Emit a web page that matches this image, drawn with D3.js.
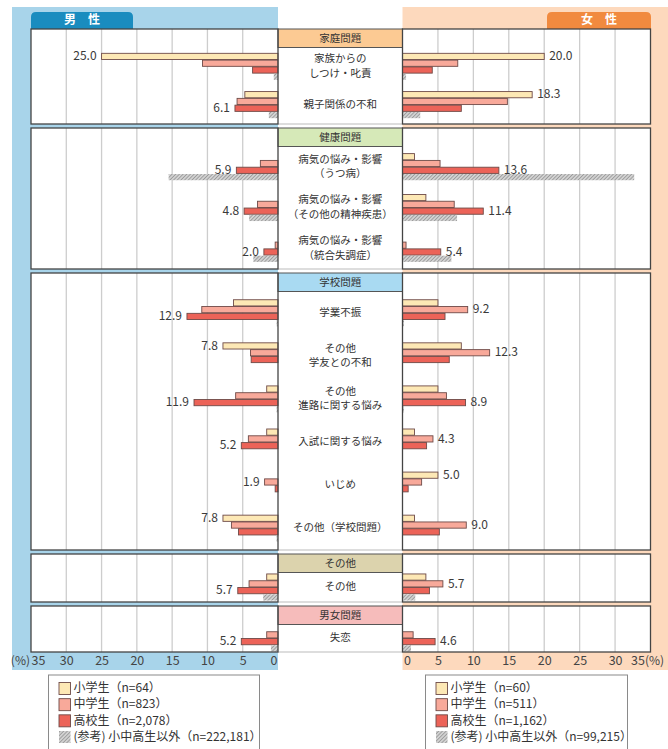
<!DOCTYPE html>
<html><head><meta charset="utf-8">
<script src="https://cdn.jsdelivr.net/npm/d3@7"></script>
<style>
body{margin:0;background:#fff;}
text{font-family:"Noto Sans CJK JP","Noto Sans",sans-serif;}
</style></head><body>
<svg id="chart" width="668" height="749"></svg>
<script>
// ---- data ----
const sections = ["家庭問題", "健康問題", "学校問題", "その他", "男女問題"];
const categories = [
  "家族からの\nしつけ・叱責", "親子関係の不和",
  "病気の悩み・影響\n（うつ病）", "病気の悩み・影響\n（その他の精神疾患）", "病気の悩み・影響\n（統合失調症）",
  "学業不振", "その他\n学友との不和", "その他\n進路に関する悩み", "入試に関する悩み", "いじめ", "その他（学校問題）",
  "その他",
  "失恋"
];
const categorySection = [0, 0, 1, 1, 1, 2, 2, 2, 2, 2, 2, 3, 4];
const seriesNames = ["小学生", "中学生", "高校生", "(参考) 小中高生以外"];
const maleN = ["64", "823", "2,078", "222,181"];
const femaleN = ["60", "511", "1,162", "99,215"];

const maleElementary = [25.0, 4.7, 0, 0, 0, 6.3, 7.8, 1.6, 1.6, 0, 7.8, 1.6, 0];
const maleJunior     = [10.7, 5.8, 2.5, 2.9, 0.4, 10.8, 3.9, 6.0, 4.2, 1.9, 6.6, 4.1, 1.6];
const maleHigh       = [3.6, 6.1, 5.9, 4.8, 2.0, 12.9, 3.8, 11.9, 5.2, 0.4, 5.6, 5.7, 5.2];
const maleOther      = [0.6, 1.3, 15.5, 4.1, 3.5, 0.2, 0, 0.2, 0, 0, 0.2, 2.1, 1.0];

const femaleElementary = [20.0, 18.3, 1.7, 3.3, 0, 5.0, 8.3, 5.0, 1.7, 5.0, 1.7, 3.3, 0];
const femaleJunior     = [7.8, 14.8, 5.3, 7.3, 0.5, 9.2, 12.3, 6.2, 4.3, 2.7, 9.0, 5.7, 1.5];
const femaleHigh       = [4.2, 8.3, 13.6, 11.4, 5.4, 6.0, 6.6, 8.9, 3.4, 0.8, 5.2, 3.8, 4.6];
const femaleOther      = [0.5, 2.5, 32.7, 7.7, 6.9, 0.2, 0, 0.2, 0, 0, 0, 1.8, 1.2];

const tickValues = [0, 5, 10, 15, 20, 25, 30, 35];

// ---- layout & style ----
const sectionTop = [29, 128, 273, 554, 606];
const sectionBottom = [124, 269, 550, 602, 652];
const headerH = 18.5;
const sectionFill = ["#fcca93", "#d6e9b8", "#a9daf2", "#dcd3ad", "#f6bcbb"];
const barFill = ["#fde8b5", "#f8a99a", "#ec6358", "url(#hatch)"];
const barStroke = "#6e4a47";

const svg = d3.select("#chart");
const defs = svg.append("defs");
const pat = defs.append("pattern").attr("id", "hatch")
  .attr("width", 2.6).attr("height", 2.6)
  .attr("patternUnits", "userSpaceOnUse")
  .attr("patternTransform", "rotate(45)");
pat.append("rect").attr("width", 2.6).attr("height", 2.6).attr("fill", "#d2d2d2");
pat.append("line").attr("x1", 0).attr("y1", 0).attr("x2", 0).attr("y2", 2.6)
  .attr("stroke", "#8c8c8c").attr("stroke-width", 1.4);

const xMale = d3.scaleLinear().domain([0, 35]).range([278, 31]);
const xFemale = d3.scaleLinear().domain([0, 35]).range([402.5, 650.5]);

// side backgrounds
svg.append("rect").attr("x", 12).attr("y", 7).attr("width", 266).attr("height", 663).attr("fill", "#a8d4ea");
svg.append("rect").attr("x", 402.5).attr("y", 7).attr("width", 265.5).attr("height", 663).attr("fill", "#fdd9bd");

// side tabs
function tab(x0, x1, y0, y1, fill, label) {
  const r = 5;
  svg.append("path")
    .attr("d", `M${x0},${y1}V${y0 + r}Q${x0},${y0} ${x0 + r},${y0}H${x1 - r}Q${x1},${y0} ${x1},${y0 + r}V${y1}Z`)
    .attr("fill", fill);
  svg.append("text").attr("x", (x0 + x1) / 2).attr("y", (y0 + y1) / 2 + 0.5)
    .attr("text-anchor", "middle").attr("dominant-baseline", "middle")
    .attr("fill", "#fff").attr("font-weight", "bold").attr("font-size", 12)
    .text(label);
}
tab(31, 133, 12, 29, "#1a8cbf", "男　性");
tab(547, 651, 12, 29, "#f18a3f", "女　性");

const maleSeries = [maleElementary, maleJunior, maleHigh, maleOther];
const femaleSeries = [femaleElementary, femaleJunior, femaleHigh, femaleOther];

// category centre positions from one band scale per section
const catCenter = [];
sections.forEach((s, i) => {
  const idx = categories.map((c, j) => j).filter(j => categorySection[j] === i);
  const yCat = d3.scaleBand().domain(idx).range([sectionTop[i] + headerH, sectionBottom[i]]);
  idx.forEach(j => { catCenter[j] = yCat(j) + yCat.bandwidth() / 2; });
});
const ySeries = d3.scaleBand().domain(d3.range(4)).range([-13.6, 13.6]);

// section frames
sections.forEach((s, i) => {
  const top = sectionTop[i], bottom = sectionBottom[i];
  const g = svg.append("g");
  // centre column
  g.append("rect").attr("x", 278).attr("y", top).attr("width", 124.5).attr("height", bottom - top)
    .attr("fill", "#fff");
  g.append("line").attr("x1", 278).attr("x2", 402.5).attr("y1", bottom).attr("y2", bottom)
    .attr("stroke", "#bbb").attr("stroke-width", 1);
  [[xMale, 31, 278], [xFemale, 402.5, 650.5]].forEach(([x, a, b]) => {
    g.append("rect").attr("x", a).attr("y", top).attr("width", b - a).attr("height", bottom - top)
      .attr("fill", "#fff");
    g.selectAll(null).data(tickValues.filter(t => t > 0 && t < 35)).join("line")
      .attr("x1", d => x(d)).attr("x2", d => x(d)).attr("y1", top).attr("y2", bottom)
      .attr("stroke", "#cdcdcd").attr("stroke-width", 1.3);
  });
  // header box
  g.append("rect").attr("x", 278).attr("y", top).attr("width", 124.5).attr("height", headerH)
    .attr("fill", sectionFill[i]).attr("stroke", "#555").attr("stroke-width", 1);
  g.append("text").attr("x", 340.25).attr("y", top + headerH / 2 + 0.5)
    .attr("text-anchor", "middle").attr("dominant-baseline", "middle")
    .attr("font-size", 10.5).attr("fill", "#333").text(s);
});

// bars
function drawSide(seriesArr, x, dir) {
  const g = svg.append("g");
  seriesArr.forEach((vals, k) => {
    g.selectAll(null).data(vals.map((v, j) => ({ v, j }))).join("rect")
      .filter(d => d.v > 0)
      .attr("x", d => Math.min(x(0), x(d.v)))
      .attr("width", d => Math.abs(x(d.v) - x(0)))
      .attr("y", d => catCenter[d.j] + ySeries(k) + 0.3)
      .attr("height", ySeries.bandwidth() - 0.6)
      .attr("fill", barFill[k])
      .attr("stroke", k < 3 ? barStroke : "none")
      .attr("stroke-width", 0.9);
  });
  // value label on the largest of the three school groups
  const labels = categories.map((c, j) => {
    const k = d3.maxIndex([0, 1, 2], kk => seriesArr[kk][j]);
    return { j, k, v: seriesArr[k][j] };
  });
  g.selectAll(null).data(labels).join("text")
    .attr("x", d => x(d.v) + dir * 5)
    .attr("y", d => catCenter[d.j] + ySeries(d.k) + ySeries.bandwidth() / 2 + 0.5)
    .attr("text-anchor", dir < 0 ? "end" : "start")
    .attr("dominant-baseline", "middle")
    .attr("font-size", 12).attr("fill", "#3a3a3a")
    .text(d => d3.format(".1f")(d.v));
}
drawSide(maleSeries, xMale, -1);
drawSide(femaleSeries, xFemale, 1);

// plot frames on top
sections.forEach((s, i) => {
  const top = sectionTop[i], bottom = sectionBottom[i];
  svg.append("rect").attr("x", 31).attr("y", top).attr("width", 247).attr("height", bottom - top)
    .attr("fill", "none").attr("stroke", "#444").attr("stroke-width", 1.3);
  svg.append("rect").attr("x", 402.5).attr("y", top).attr("width", 248).attr("height", bottom - top)
    .attr("fill", "none").attr("stroke", "#444").attr("stroke-width", 1.3);
});

// category labels
const catG = svg.append("g");
categories.forEach((c, j) => {
  const lines = c.split("\n");
  const t = catG.append("text").attr("x", 340.25).attr("text-anchor", "middle")
    .attr("font-size", 10.5).attr("fill", "#333");
  lines.forEach((ln, li) => {
    t.append("tspan").attr("x", 340.25)
      .attr("y", catCenter[j] + (li - (lines.length - 1) / 2) * 14.5)
      .attr("dominant-baseline", "middle").text(ln);
  });
});

// axes
const axisY = 656;
const axL = svg.append("g").attr("transform", `translate(0,${axisY})`)
  .call(d3.axisBottom(xMale).tickValues(tickValues).tickSize(0).tickPadding(0));
const axR = svg.append("g").attr("transform", `translate(0,${axisY})`)
  .call(d3.axisBottom(xFemale).tickValues(tickValues).tickSize(0).tickPadding(0));
[axL, axR].forEach(a => {
  a.select(".domain").remove();
  a.selectAll("text").attr("font-size", 12.5).attr("fill", "#444")
    .attr("font-family", '"Noto Sans CJK JP","Noto Sans",sans-serif')
    .attr("dy", "0.75em");
});
axL.selectAll("text").filter(d => d === 0).attr("text-anchor", "end").attr("dx", -1);
axL.selectAll("text").filter(d => d === 35).attr("text-anchor", "start").attr("dx", 0);
axR.selectAll("text").filter(d => d === 0).attr("text-anchor", "start").attr("dx", 1);
axR.selectAll("text").filter(d => d === 35).attr("text-anchor", "end").attr("dx", -6);
svg.append("text").attr("x", 30).attr("y", axisY).attr("dy", "0.75em").attr("text-anchor", "end")
  .attr("font-size", 12).attr("fill", "#444").text("(%)");
svg.append("text").attr("x", 645).attr("y", axisY).attr("dy", "0.75em").attr("text-anchor", "start")
  .attr("font-size", 12).attr("fill", "#444").text("(%)");

// legends
function legend(x0, x1, nList) {
  const g = svg.append("g");
  g.append("rect").attr("x", x0).attr("y", 675).attr("width", x1 - x0).attr("height", 80)
    .attr("fill", "#fff").attr("stroke", "#8a8a8a").attr("stroke-width", 1);
  const yL = d3.scalePoint().domain(d3.range(4)).range([688.5, 737]);
  seriesNames.forEach((name, k) => {
    g.append("rect").attr("x", x0 + 10.5).attr("y", yL(k) - 6).attr("width", 11.5).attr("height", 12)
      .attr("fill", barFill[k]).attr("stroke", k < 3 ? barStroke : "none").attr("stroke-width", 0.9);
    g.append("text").attr("x", x0 + 25).attr("y", yL(k) + 0.5).attr("dominant-baseline", "middle")
      .attr("font-size", 12).attr("fill", "#333")
      .text(`${name}（n=${nList[k]}）`);
  });
}
legend(48.5, 259.5, maleN);
legend(425.5, 627.5, femaleN);
</script>
</body></html>
